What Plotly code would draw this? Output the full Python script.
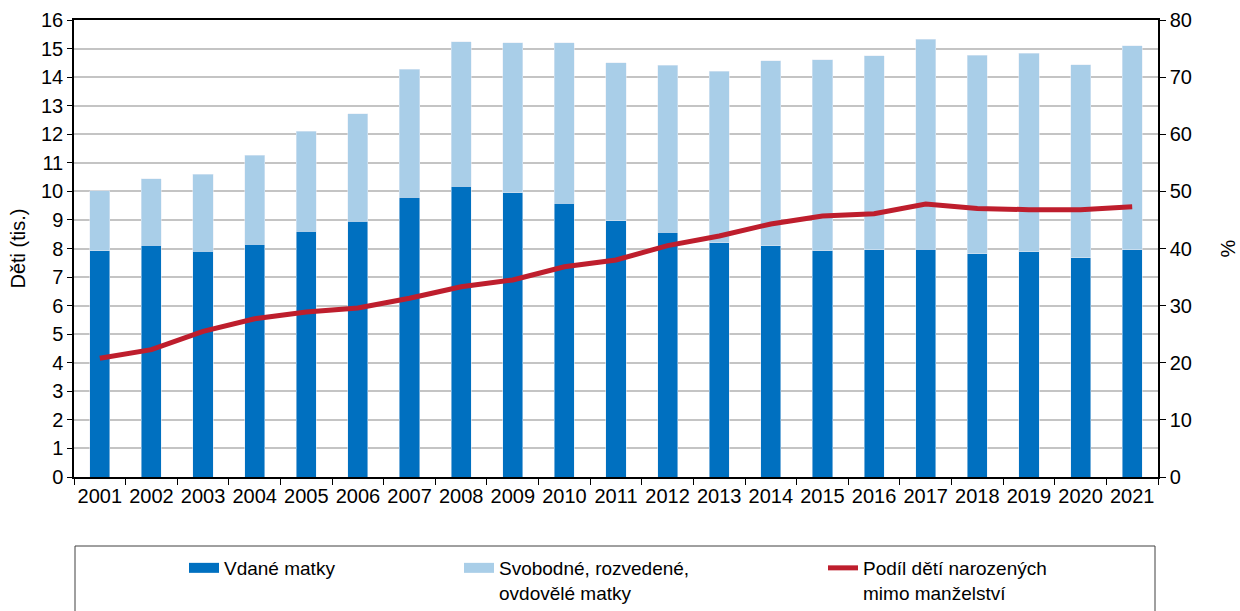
import plotly.graph_objects as go

years = [str(y) for y in range(2001, 2022)]
married = [7.93, 8.12, 7.90, 8.15, 8.60, 8.96, 9.80, 10.18, 9.95, 9.58, 8.98,
           8.57, 8.20, 8.10, 7.93, 7.95, 7.98, 7.82, 7.88, 7.67, 7.95]
total = [10.02, 10.45, 10.60, 11.27, 12.10, 12.72, 14.27, 15.23, 15.20, 15.20, 14.50,
         14.42, 14.20, 14.57, 14.60, 14.75, 15.32, 14.77, 14.83, 14.43, 15.10]
unmarried = [round(t - m, 2) for t, m in zip(total, married)]
share = [20.8, 22.3, 25.5, 27.7, 28.9, 29.6, 31.3, 33.3, 34.5, 36.8, 38.0,
         40.5, 42.2, 44.3, 45.7, 46.1, 47.8, 47.0, 46.8, 46.8, 47.3]

DARK = "#0070C0"
LIGHT = "#A9CEE8"
RED = "#BE1E2D"
FONT = "Liberation Sans, Arial, sans-serif"

fig = go.Figure()
fig.add_trace(go.Bar(x=years, y=married, marker_color=DARK, width=0.39,
                     name="Vdané matky", showlegend=False))
fig.add_trace(go.Bar(x=years, y=unmarried, marker_color=LIGHT, width=0.39,
                     name="Svobodné, rozvedené, ovdovělé matky", showlegend=False))
fig.add_trace(go.Scatter(x=years, y=share, yaxis="y2", mode="lines",
                         line=dict(color=RED, width=5),
                         name="Podíl dětí narozených<br>mimo manželství",
                         legend="legend3"))
# legend proxies (wide swatches like the reference)
fig.add_trace(go.Scatter(x=[None], y=[None], mode="lines",
                         line=dict(color=DARK, width=11),
                         name="Vdané matky", legend="legend"))
fig.add_trace(go.Scatter(x=[None], y=[None], mode="lines",
                         line=dict(color=LIGHT, width=11),
                         name="Svobodné, rozvedené,<br>ovdovělé matky", legend="legend2"))

OFF = 0  # page body margin removed via post_script
W, H = 1240 - 2 * OFF, 611 - 2 * OFF
# target plot area in page pixels: x 74..1158, y 20..477
L = 74 - OFF
T = 20 - OFF
R = W - (1158 - OFF)
B = H - (477 - OFF)
pw = W - L - R
ph = H - T - B

def px(x):
    return (x - OFF - L) / pw

def py(y):
    return (H - B - (y - OFF)) / ph

leg_common = dict(font=dict(family=FONT, size=19, color="#000"), bgcolor="rgba(0,0,0,0)",
                  yanchor="top", xanchor="left", valign="top", orientation="h")

fig.update_layout(
    width=W, height=H,
    margin=dict(l=L, r=R, t=T, b=B, autoexpand=False),
    plot_bgcolor="white", paper_bgcolor="white",
    barmode="stack",
    font=dict(family=FONT, size=20, color="#000"),
    xaxis=dict(type="category", showline=True, linecolor="#000", linewidth=1.5,
               mirror=True, ticks="outside", ticklen=6, tickcolor="#000",
               tickson="boundaries", showgrid=False, automargin=False,
               tickangle=0, tickfont=dict(size=20)),
    yaxis=dict(range=[0, 16], dtick=1, showline=True, linecolor="#000", linewidth=1.5,
               ticks="outside", ticklen=5, tickcolor="#000", automargin=False,
               showgrid=True, gridcolor="#C4C4C4", gridwidth=1.5, zeroline=False,
               title=dict(text="Děti (tis.)", font=dict(size=20), standoff=10)),
    yaxis2=dict(range=[0, 80], dtick=10, overlaying="y", side="right",
                showline=True, linecolor="#000", linewidth=1.5, automargin=False,
                ticks="outside", ticklen=6, tickcolor="#000", showgrid=False,
                zeroline=False,
                title=dict(text="%", font=dict(size=20), standoff=30)),
    legend=dict(x=px(184), y=py(549), **leg_common),
    legend2=dict(x=px(459), y=py(549), **leg_common),
    legend3=dict(x=px(823), y=py(549), **leg_common),
    shapes=[dict(type="rect", xref="paper", yref="paper",
                 x0=px(75), x1=px(1155), y0=py(546), y1=py(640),
                 line=dict(color="#404040", width=1), fillcolor="rgba(0,0,0,0)")],
)

fig.write_html("out.html", config={"displayModeBar": False},
               post_script="document.body.style.margin='0';document.body.style.overflow='hidden';")
